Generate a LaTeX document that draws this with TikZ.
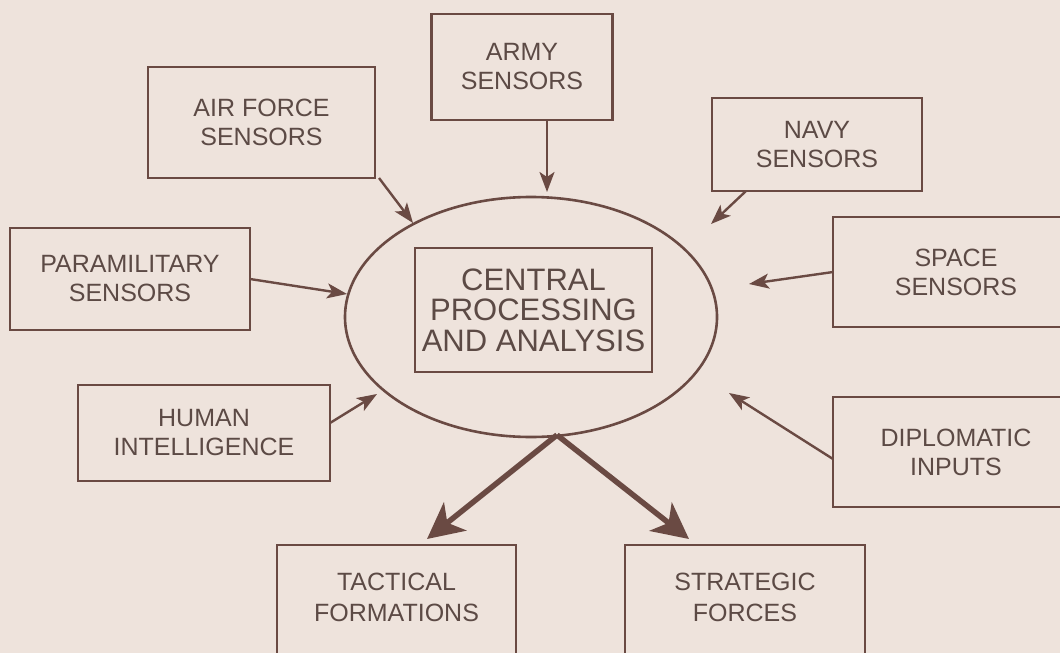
\documentclass[tikz,border=0pt]{standalone}
\usepackage{fontspec}
\setmainfont{Liberation Sans}
\usetikzlibrary{arrows.meta,shapes.geometric}
\definecolor{paper}{HTML}{EEE3DC}
\definecolor{ink}{HTML}{6A4A43}
\definecolor{txt}{HTML}{5C4A45}
\begin{document}
\begin{tikzpicture}[x=1pt,y=-1pt,
  box/.style={draw=ink, line width=2.6pt, rectangle, align=center, text=txt,
    font=\fontsize{25}{29}\selectfont, inner sep=0pt},
  lbl/.style={align=center, text=txt, font=\fontsize{25}{31}\selectfont},
  thin/.style={draw=ink, line width=2.4pt, -{Stealth[length=20pt,width=15pt,inset=5pt]}},
  thick/.style={draw=ink, line width=5.5pt, -{Stealth[length=36pt,width=36pt,inset=10pt]}}]
\path[use as bounding box, fill=paper] (0,0) rectangle (1060,653);
\clip (0,0) rectangle (1060,653);
% central
\node[draw=ink, line width=2.6pt, ellipse, minimum width=372pt, minimum height=240pt, inner sep=0pt] (ell) at (531,317) {};
\node[box, minimum width=237pt, minimum height=124pt, font=\fontsize{31}{30.5}\selectfont] (cpa) at (533.5,310) {CENTRAL\\PROCESSING\\AND ANALYSIS};
% sources
\node[box, minimum width=227pt, minimum height=111pt] (air) at (261.5,122.5) {AIR FORCE\\SENSORS};
\node[box, minimum width=181pt, minimum height=106pt] (army) at (522,67) {ARMY\\SENSORS};
\node[box, minimum width=210pt, minimum height=93pt] (navy) at (817,144.5) {NAVY\\SENSORS};
\node[box, minimum width=240pt, minimum height=102pt] (para) at (130,279) {PARAMILITARY\\SENSORS};
\node[box, minimum width=246pt, minimum height=110pt, text width=246pt] (space) at (956,272) {SPACE\\SENSORS};
\node[box, minimum width=252pt, minimum height=96pt] (human) at (204,433) {HUMAN\\INTELLIGENCE};
\node[box, minimum width=246pt, minimum height=110pt, text width=246pt] (diplo) at (956,452) {DIPLOMATIC\\INPUTS};
% outputs
\node[box, minimum width=239pt, minimum height=150pt] (tac) at (396.5,620) {};
\node[lbl] (tactxt) at (396.5,597) {TACTICAL\\FORMATIONS};
\node[box, minimum width=240pt, minimum height=150pt] (str) at (745,620) {};
\node[lbl] (strtxt) at (745,597) {STRATEGIC\\FORCES};
% arrow end points
\coordinate (armyA) at (547,120);
\coordinate (armyT) at (547,192);
\coordinate (airA) at (379,178);
\coordinate (airT) at (413,223);
\coordinate (navyA) at (746,191);
\coordinate (navyT) at (711,224);
\coordinate (paraA) at (250,279);
\coordinate (paraT) at (347,294);
\coordinate (spaceA) at (833,272);
\coordinate (spaceT) at (749,284);
\coordinate (humanA) at (330,423);
\coordinate (humanT) at (377,394);
\coordinate (diploA) at (833,459);
\coordinate (diploT) at (729,393);
\coordinate (bot) at (557,435);
\coordinate (tacT) at (427,539);
\coordinate (strT) at (689,539);
\draw[thin] (armyA) -- (armyT);
\draw[thin] (airA) -- (airT);
\draw[thin] (navyA) -- (navyT);
\draw[thin] (paraA) -- (paraT);
\draw[thin] (spaceA) -- (spaceT);
\draw[thin] (humanA) -- (humanT);
\draw[thin] (diploA) -- (diploT);
\draw[thick] (bot) -- (tacT);
\draw[thick] (bot) -- (strT);
\end{tikzpicture}
\end{document}
